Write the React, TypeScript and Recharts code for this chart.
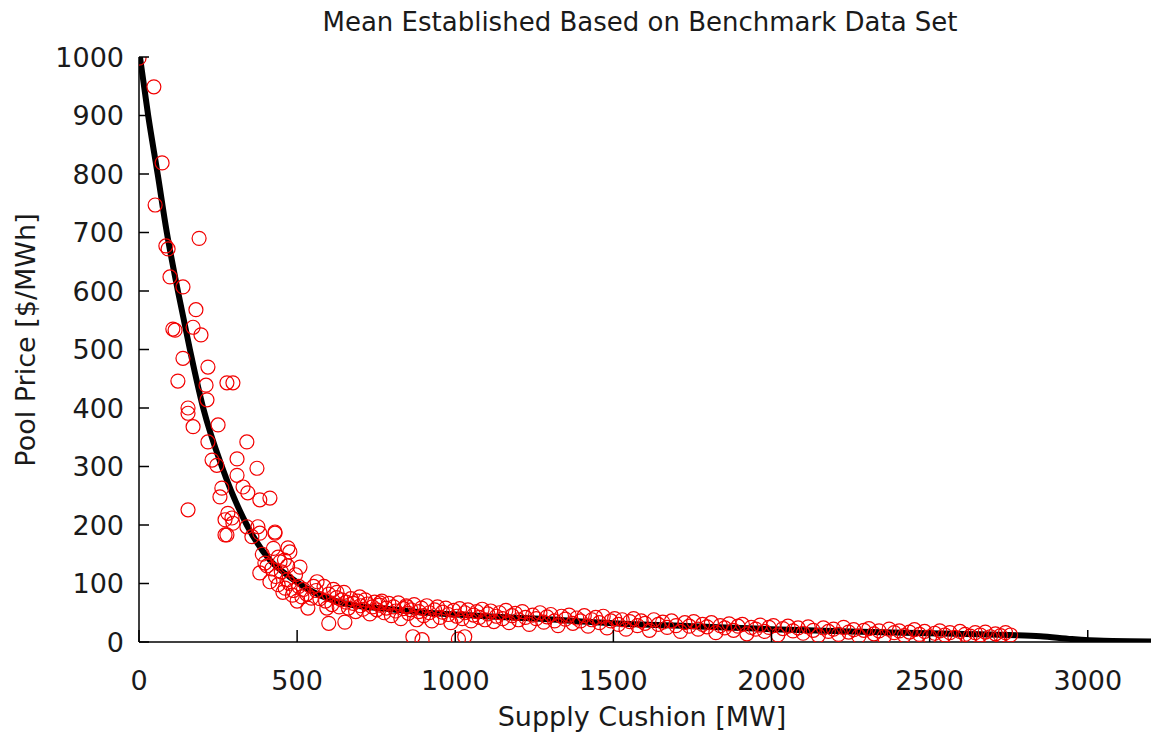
import { ComposedChart, Scatter, Line, XAxis, YAxis } from "recharts";

// observed prices, steep part of the curve (supply cushion MW, $/MWh)
const steepPoints: [number, number][] = [
  [0, 998], [47, 949], [73, 819], [51, 747], [190, 690], [85, 677], [92, 672], [98, 624],
  [139, 607], [180, 568], [107, 535], [114, 533], [171, 538], [196, 525], [139, 485], [218, 470],
  [123, 446], [212, 439], [278, 443], [297, 443], [215, 414], [155, 400], [155, 391], [171, 368],
  [250, 371], [218, 342], [341, 342], [231, 311], [310, 313], [246, 302], [373, 297], [310, 285],
  [262, 263], [329, 265], [344, 255], [256, 248], [382, 243], [414, 246], [155, 226], [281, 220],
  [294, 212], [272, 209], [341, 197], [376, 197], [430, 188], [272, 183], [357, 180], [471, 161],
  [278, 183], [297, 203], [430, 186], [382, 186], [477, 154], [398, 135], [509, 128], [446, 137],
  [414, 103], [382, 118], [468, 106], [563, 103], [455, 85], [515, 77], [534, 58], [594, 58],
  [626, 85], [698, 77], [762, 67], [847, 60],
  [420, 125], [432, 112], [440, 98], [450, 120], [462, 92], [475, 100], [488, 88], [495, 115],
  [505, 95], [520, 90], [530, 82], [545, 75], [552, 95], [500, 70], [485, 80], [470, 130],
  [440, 145], [425, 160], [460, 140], [390, 150], [405, 130],
];

// observed prices, flat tail
const tailPoints: [number, number][] = [
  [560, 88], [572, 74], [585, 95], [590, 70], [600, 82], [610, 64], [615, 90], [625, 76],
  [633, 60], [640, 72], [648, 85], [655, 68], [662, 58], [670, 74], [678, 66], [685, 52],
  [692, 70], [700, 62], [708, 56], [715, 72], [722, 65], [730, 48], [738, 60], [745, 68],
  [752, 55], [760, 63], [768, 70], [775, 50], [782, 58], [790, 66], [798, 45], [805, 60],
  [812, 53], [820, 67], [828, 40], [836, 57], [845, 62], [852, 49], [860, 55], [870, 64],
  [878, 38], [885, 52], [893, 58], [900, 45], [910, 62], [918, 50], [926, 36], [935, 55],
  [944, 60], [952, 42], [960, 51], [970, 58], [978, 47], [986, 33], [995, 54], [1005, 44],
  [1014, 57], [1022, 40], [1030, 50], [1040, 55], [1050, 36], [1058, 46], [1068, 52], [1076, 42],
  [1085, 56], [1094, 38], [1103, 48], [1112, 53], [1122, 35], [1130, 44], [1140, 50], [1150, 40],
  [1160, 54], [1170, 33], [1180, 45], [1190, 49], [1200, 38], [1212, 52], [1222, 42], [1234, 30],
  [1245, 46], [1256, 40], [1268, 50], [1280, 34], [1290, 43], [1302, 47], [1314, 36], [1325, 28],
  [1336, 44], [1348, 39], [1360, 46], [1372, 32], [1384, 41], [1396, 36], [1408, 45], [1420, 27],
  [1432, 38], [1444, 42], [1456, 33], [1468, 44], [1480, 24], [1492, 36], [1504, 40], [1516, 30],
  [1528, 38], [1540, 22], [1552, 35], [1564, 40], [1576, 28], [1588, 36], [1600, 32], [1614, 20],
  [1628, 38], [1642, 30], [1656, 34], [1670, 25], [1684, 36], [1698, 28], [1712, 18], [1726, 33],
  [1740, 27], [1754, 35], [1768, 22], [1782, 30], [1796, 26], [1810, 33], [1824, 16], [1838, 28],
  [1852, 24], [1866, 31], [1880, 20], [1894, 27], [1908, 30], [1922, 14], [1936, 25], [1950, 22],
  [1964, 29], [1978, 18], [1992, 25], [2006, 28], [2020, 12], [2036, 23], [2052, 27], [2068, 19],
  [2084, 24], [2100, 15], [2116, 26], [2132, 20], [2148, 11], [2164, 24], [2180, 18], [2196, 22],
  [2212, 13], [2228, 25], [2244, 17], [2260, 21], [2276, 10], [2292, 20], [2308, 23], [2324, 14],
  [2340, 19], [2356, 9], [2372, 22], [2388, 16], [2404, 19], [2420, 11], [2436, 17], [2452, 21],
  [2468, 13], [2484, 18], [2500, 9], [2516, 15], [2532, 19], [2548, 12], [2564, 16], [2580, 8],
  [2596, 18], [2612, 13], [2628, 10], [2644, 16], [2660, 12], [2676, 17], [2692, 9], [2708, 14],
  [2724, 11], [2740, 16], [2756, 12],
  [866, 9], [895, 4], [1010, 5], [1030, 9], [600, 32], [651, 34],
];

// fitted mean curve
const meanCurve: [number, number][] = [
  [3, 1000], [29, 900], [59, 800], [88, 700], [123, 600], [161, 500], [203, 400], [262, 300],
  [341, 200], [414, 140], [477, 111], [572, 80], [676, 63], [784, 57], [888, 51], [1000, 47],
  [1250, 40], [1500, 32], [1750, 27], [2000, 22], [2250, 18], [2500, 15], [2750, 12], [2850, 10],
  [2950, 5], [3050, 2], [3200, 1],
];

const xTicks = [0, 500, 1000, 1500, 2000, 2500, 3000];
const yTicks = [0, 100, 200, 300, 400, 500, 600, 700, 800, 900, 1000];

const scatterData = [...steepPoints, ...tailPoints].map(([x, y]) => ({ x, y }));
const curveData = meanCurve.map(([x, y]) => ({ x, mean: y }));

const FONT = "'DejaVu Sans', sans-serif";
const TEXT = "#1a1a1a";
const X_GAP = 29;
const Y_GAP = 15;

const RedCircle = (props: any) => (
  <circle cx={props.cx} cy={props.cy} r={7} fill="none" stroke="#f20000" strokeWidth={1.2} />
);

// matlab-style ticks: short marks pointing into the plot
const XTick = ({ x, y, payload }: any) => (
  <g>
    <line x1={x} x2={x} y1={y - X_GAP} y2={y - X_GAP - 12} stroke="#000" strokeWidth={1.5} />
    <text x={x} y={y} dy="0.71em" textAnchor="middle" fill={TEXT} fontSize={27} fontFamily={FONT}>
      {payload.value}
    </text>
  </g>
);

const YTick = ({ x, y, payload }: any) => (
  <g>
    <line x1={x + Y_GAP} x2={x + Y_GAP + 10} y1={y} y2={y} stroke="#000" strokeWidth={1.5} />
    <text x={x} y={y} dy="0.355em" textAnchor="end" fill={TEXT} fontSize={27} fontFamily={FONT}>
      {payload.value}
    </text>
  </g>
);

export default function App() {
  return (
    <div style={{ position: "absolute", left: 0, top: 0, width: 1151, height: 736, background: "#fff" }}>
      <div
        style={{
          position: "absolute",
          left: 640,
          top: 22,
          transform: "translate(-50%, -50%)",
          whiteSpace: "nowrap",
          fontFamily: FONT,
          fontSize: 26,
          lineHeight: 1,
          color: TEXT,
        }}
      >
        Mean Established Based on Benchmark Data Set
      </div>
      <ComposedChart width={1151} height={736} margin={{ top: 57, right: 0, bottom: 0, left: 0 }}>
        <XAxis
          type="number"
          dataKey="x"
          domain={[0, 3200]}
          ticks={xTicks}
          allowDataOverflow
          height={94}
          tickSize={0}
          tickMargin={X_GAP}
          tickLine={false}
          axisLine={{ stroke: "#000", strokeWidth: 1.5 }}
          tick={<XTick />}
          label={{
            content: () => (
              <text x={642} y={716} textAnchor="middle" dominantBaseline="central" fill={TEXT} fontSize={27} fontFamily={FONT}>
                Supply Cushion [MW]
              </text>
            ),
          }}
        />
        <YAxis
          type="number"
          dataKey="y"
          domain={[0, 1000]}
          ticks={yTicks}
          allowDataOverflow
          width={139}
          tickSize={0}
          tickMargin={Y_GAP}
          tickLine={false}
          axisLine={{ stroke: "#000", strokeWidth: 1.5 }}
          tick={<YTick />}
          label={{
            content: () => (
              <text
                x={25}
                y={340}
                transform="rotate(-90 25 340)"
                textAnchor="middle"
                dominantBaseline="central"
                fill={TEXT}
                fontSize={27}
                fontFamily={FONT}
              >
                Pool Price [$/MWh]
              </text>
            ),
          }}
        />
        <Scatter data={scatterData} dataKey="y" shape={RedCircle} isAnimationActive={false} />
        <Line
          data={curveData}
          dataKey="mean"
          type="monotone"
          stroke="#000"
          strokeWidth={6}
          dot={false}
          activeDot={false}
          isAnimationActive={false}
        />
      </ComposedChart>
    </div>
  );
}
